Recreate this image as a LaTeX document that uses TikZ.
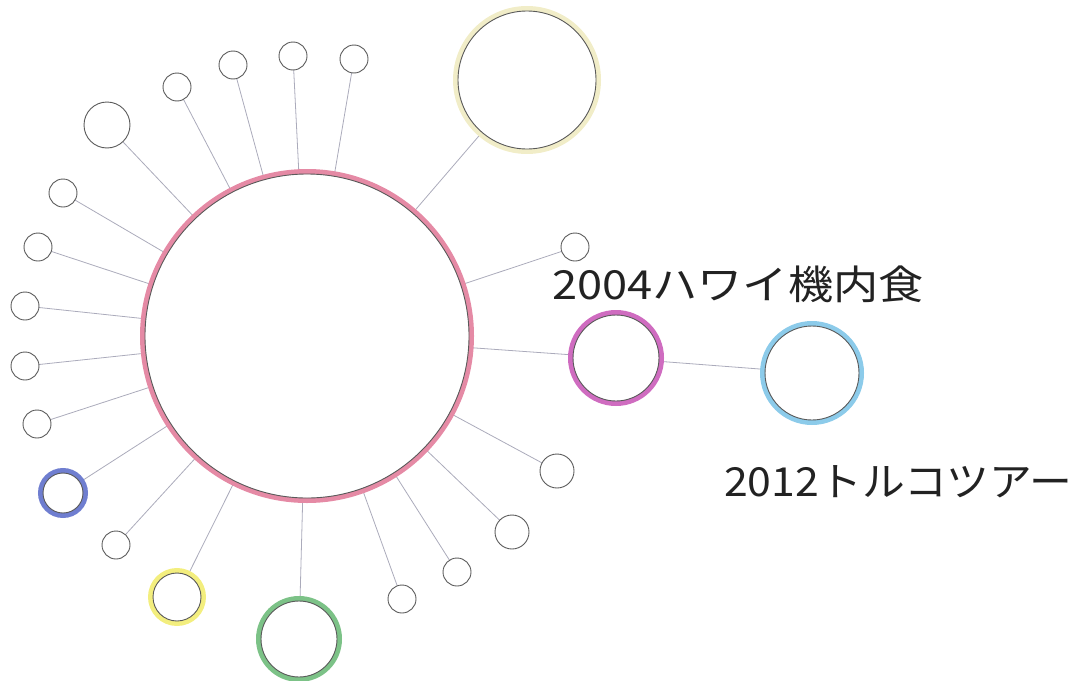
\documentclass[tikz,border=0pt]{standalone}
\usepackage{fontspec}
\newfontfamily\jpfont{Noto Sans CJK JP}
\definecolor{ringgray}{HTML}{5A5A5A}
\definecolor{linkgray}{HTML}{ABABBB}
\definecolor{pinkband}{HTML}{E58AA5}
\definecolor{magband}{HTML}{CF6CC0}
\definecolor{blueband}{HTML}{8CCBEA}
\definecolor{greenband}{HTML}{7CC287}
\definecolor{yellowband}{HTML}{F3EE7E}
\definecolor{violetband}{HTML}{6F7ED0}
\definecolor{paleyellow}{HTML}{F1EDC8}
\definecolor{textdark}{HTML}{222222}
\pgfdeclarelayer{bg}
\pgfsetlayers{bg,main}
\tikzset{
  sat/.style={circle, draw=ringgray, line width=0.9pt, inner sep=0pt, outer sep=0pt, minimum size=#1},
  link/.style={draw=linkgray, line width=0.8pt},
  band/.style={draw=#1, line width=5pt},
  lbl/.style={font=\jpfont\fontsize{40}{40}\selectfont, anchor=base west, inner sep=0pt, text=textdark}
}
\begin{document}
\begin{tikzpicture}[x=1pt,y=-1pt]
\useasboundingbox (0,0) rectangle (1075,680);
% nodes
\node[sat=324] (c0) at (307,336) {};
\node[sat=138] (y1) at (527,80) {};
\node[sat=28] (s1) at (575,247) {};
\node[sat=86] (m1) at (616,358) {};
\node[sat=94] (b1) at (812,373) {};
\node[sat=34] (s2) at (557,471) {};
\node[sat=34] (s3) at (512,532) {};
\node[sat=28] (s4) at (457,572) {};
\node[sat=28] (s5) at (402,599) {};
\node[sat=76] (g1) at (299,639) {};
\node[sat=48] (y2) at (177,597) {};
\node[sat=28] (s6) at (116,545) {};
\node[sat=40] (v1) at (63,493) {};
\node[sat=28] (s7) at (37,424) {};
\node[sat=28] (s8) at (25,366) {};
\node[sat=28] (s9) at (25,306) {};
\node[sat=28] (s10) at (38,247) {};
\node[sat=28] (s11) at (63,193) {};
\node[sat=46] (s12) at (107,125) {};
\node[sat=28] (s13) at (177,87) {};
\node[sat=28] (s14) at (233,65) {};
\node[sat=28] (s15) at (293,56) {};
\node[sat=28] (s16) at (354,59) {};
% labels
\node[lbl] (t1) at (552,299) {\scalebox{1.13}[1]{2004ハワイ機内食}};
\node[lbl] (t2) at (724,496) {\scalebox{1.07}[1]{2012トルコツアー}};
\begin{pgfonlayer}{bg}
  \foreach \n in {y1,s1,m1,s2,s3,s4,s5,g1,y2,s6,v1,s7,s8,s9,s10,s11,s12,s13,s14,s15,s16}
    \draw[link] (c0) -- (\n);
  \draw[link] (m1) -- (b1);
  \draw[band=pinkband] (c0.center) circle[radius=164.5];
  \draw[band=paleyellow] (y1.center) circle[radius=71.5];
  \draw[band=magband] (m1.center) circle[radius=45.5];
  \draw[band=blueband] (b1.center) circle[radius=49.5];
  \draw[band=greenband] (g1.center) circle[radius=40.5];
  \draw[band=yellowband] (y2.center) circle[radius=26.5];
  \draw[band=violetband] (v1.center) circle[radius=22.5];
\end{pgfonlayer}
\end{tikzpicture}
\end{document}
